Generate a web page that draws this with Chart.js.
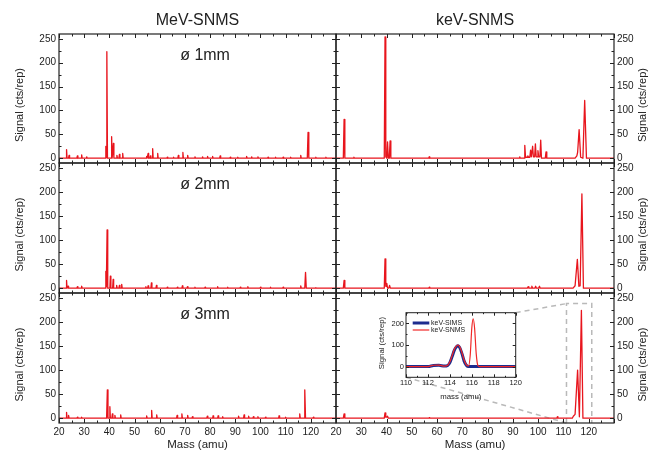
<!DOCTYPE html>
<html>
<head>
<meta charset="utf-8">
<title>MeV-SNMS vs keV-SNMS</title>
<script src="https://cdn.jsdelivr.net/npm/chart.js@4.4.1/dist/chart.umd.min.js"></script>
<style>
  html, body { margin: 0; padding: 0; background: #fff; }
  #fig { position: relative; width: 649px; height: 452px; overflow: hidden; background: #fff; }
  #fig canvas { position: absolute; }
</style>
</head>
<body>
<div id="fig">
  <canvas id="mev1" width="340" height="170" style="left:0px;top:0px"></canvas>
  <canvas id="kev1" width="323" height="170" style="left:326px;top:0px"></canvas>
  <canvas id="mev2" width="340" height="144" style="left:0px;top:156px"></canvas>
  <canvas id="kev2" width="323" height="144" style="left:326px;top:156px"></canvas>
  <canvas id="mev3" width="340" height="166" style="left:0px;top:286px"></canvas>
  <canvas id="kev3" width="323" height="166" style="left:326px;top:286px"></canvas>
  <canvas id="inset" width="152" height="100" style="left:372px;top:305px"></canvas>
</div>
<script>
// axes
const massTicks = [20, 30, 40, 50, 60, 70, 80, 90, 100, 110, 120];
const signalTicks = [0, 50, 100, 150, 200, 250];
const insetMassTicks = [110, 112, 114, 116, 118, 120];
const insetSignalTicks = [0, 100, 200];

const columnTitles = ['MeV-SNMS', 'keV-SNMS'];
const apertureLabels = ['ø 1mm', 'ø 2mm', 'ø 3mm'];

// MeV-SNMS, ø 1mm
const mev1Mass = [
  20,
  22.8, 23.0, 23.2,
  23.8, 24.0, 24.2,
  27.1, 27.3, 27.5,
  28.8, 29.0, 29.2,
  30.8, 31.0, 31.2,
  38.4, 38.6, 38.8, 39.0, 39.25,
  40.7, 40.9, 41.1,
  41.4, 41.6, 41.8,
  42.8, 43.0, 43.2,
  43.8, 44.0, 44.2,
  45.1, 45.3, 45.5,
  54.6, 54.8, 55.0,
  55.2, 55.4, 55.6,
  56.1, 56.3, 56.5,
  57.0, 57.2, 57.4,
  59.0, 59.2, 59.4,
  62.8, 63.0, 63.2,
  65.3, 65.5, 65.7,
  67.2, 67.4, 67.6,
  69.0, 69.2, 69.4,
  70.9, 71.1, 71.3,
  73.8, 74.0, 74.2,
  76.8, 77.0, 77.2,
  78.8, 79.0, 79.2,
  80.8, 81.0, 81.2,
  83.8, 84.0, 84.2,
  87.8, 88.0, 88.2,
  90.8, 91.0, 91.2,
  94.3, 94.5, 94.7,
  96.3, 96.5, 96.7,
  98.8, 99.0, 99.2,
  102.8, 103.0, 103.2,
  105.8, 106.0, 106.2,
  108.8, 109.0, 109.2,
  111.8, 112.0, 112.2,
  115.8, 116.0, 116.2,
  118.6, 118.9, 119.2,
  121.8, 122.0, 122.2,
  125.8, 126.0, 126.2,
  130
];
const mev1Signal = [
  0,
  0, 18, 0,
  0, 6, 0,
  0, 5, 0,
  0, 7, 0,
  0, 3, 0,
  0, 25, 2, 223, 0,
  0, 45, 0,
  0, 31, 0,
  0, 6, 0,
  0, 8, 0,
  0, 10, 0,
  0, 4, 0,
  0, 10, 0,
  0, 5, 0,
  0, 20, 0,
  0, 10, 0,
  0, 2, 0,
  0, 2, 0,
  0, 6, 0,
  0, 12, 0,
  0, 6, 0,
  0, 3, 0,
  0, 3, 0,
  0, 4, 0,
  0, 4, 0,
  0, 5, 0,
  0, 2, 0,
  0, 2, 0,
  0, 4, 0,
  0, 3, 0,
  0, 3, 0,
  0, 2, 0,
  0, 2, 0,
  0, 2, 0,
  0, 2, 0,
  0, 6, 0,
  0, 54, 0,
  0, 2, 0,
  0, 2, 0,
  0
];

// MeV-SNMS, ø 2mm
const mev2Mass = [
  20,
  22.8, 23.0, 23.2,
  23.4, 23.6, 23.8,
  27.1, 27.3, 27.5,
  28.8, 29.0, 29.2,
  38.4, 38.6, 38.8, 39.1, 39.35,
  40.2, 40.4, 40.6,
  41.3, 41.5, 41.7,
  42.7, 42.9, 43.1,
  43.8, 44.0, 44.2,
  44.7, 44.9, 45.1,
  54.3, 54.5, 54.7,
  55.2, 55.4, 55.6,
  56.5, 56.7, 56.9,
  58.5, 58.7, 58.9,
  62.8, 63.0, 63.2,
  66.8, 67.0, 67.2,
  68.8, 69.0, 69.2,
  70.8, 71.0, 71.2,
  73.8, 74.0, 74.2,
  77.8, 78.0, 78.2,
  82.8, 83.0, 83.2,
  86.8, 87.0, 87.2,
  91.8, 92.0, 92.2,
  94.8, 95.0, 95.2,
  99.8, 100.0, 100.2,
  103.8, 104.0, 104.2,
  108.8, 109.0, 109.2,
  115.8, 116.0, 116.2,
  117.6, 117.9, 118.2,
  121.8, 122.0, 122.2,
  130
];
const mev2Signal = [
  0,
  0, 16, 0,
  0, 4, 0,
  0, 3, 0,
  0, 4, 0,
  0, 35, 3, 121, 0,
  0, 25, 0,
  0, 18, 0,
  0, 6, 0,
  0, 6, 0,
  0, 8, 0,
  0, 3, 0,
  0, 5, 0,
  0, 11, 0,
  0, 6, 0,
  0, 2, 0,
  0, 2, 0,
  0, 5, 0,
  0, 3, 0,
  0, 2, 0,
  0, 2, 0,
  0, 3, 0,
  0, 2, 0,
  0, 2, 0,
  0, 3, 0,
  0, 2, 0,
  0, 2, 0,
  0, 2, 0,
  0, 5, 0,
  0, 33, 0,
  0, 1, 0,
  0
];

// MeV-SNMS, ø 3mm
const mev3Mass = [
  20,
  22.8, 23.0, 23.2,
  23.6, 23.8, 24.0,
  27.1, 27.3, 27.5,
  28.8, 29.0, 29.2,
  38.9, 39.2, 39.45,
  40.0, 40.2, 40.4,
  41.0, 41.2, 41.4,
  42.0, 42.2, 42.4,
  44.3, 44.5, 44.7,
  54.6, 54.8, 55.0,
  56.6, 56.8, 57.0,
  58.6, 58.8, 59.0,
  66.7, 66.9, 67.1,
  68.6, 68.8, 69.0,
  70.9, 71.1, 71.3,
  72.8, 73.0, 73.2,
  78.7, 78.9, 79.1,
  81.0, 81.2, 81.4,
  83.0, 83.2, 83.4,
  84.8, 85.0, 85.2,
  91.1, 91.3, 91.5,
  93.3, 93.5, 93.7,
  95.1, 95.3, 95.5,
  97.0, 97.2, 97.4,
  98.8, 99.0, 99.2,
  101.8, 102.0, 102.2,
  107.2, 107.4, 107.6,
  109.8, 110.0, 110.2,
  115.4, 115.6, 115.8,
  117.3, 117.6, 117.9,
  120.8, 121.0, 121.2,
  130
];
const mev3Signal = [
  0,
  0, 12, 0,
  0, 6, 0,
  0, 2, 0,
  0, 2, 0,
  0, 59, 0,
  0, 24, 0,
  0, 9, 0,
  0, 6, 0,
  0, 7, 0,
  0, 5, 0,
  0, 16, 0,
  0, 7, 0,
  0, 6, 0,
  0, 9, 0,
  0, 6, 0,
  0, 3, 0,
  0, 4, 0,
  0, 5, 0,
  0, 5, 0,
  0, 3, 0,
  0, 4, 0,
  0, 7, 0,
  0, 4, 0,
  0, 3, 0,
  0, 3, 0,
  0, 2, 0,
  0, 5, 0,
  0, 2, 0,
  0, 9, 0,
  0, 59, 0,
  0, 2, 0,
  0
];

// keV-SNMS, ø 1mm
const kev1Mass = [
  20,
  22.9, 23.2, 23.5,
  26.9, 27.1, 27.3,
  39.1, 39.4, 39.7,
  40.1, 40.4, 40.7,
  41.1, 41.4, 41.7,
  56.7, 56.9, 57.1,
  92.5, 92.7, 92.9,
  94.4, 94.7, 95.0,
  95.6, 95.9, 96.2,
  96.7, 97.0, 97.3,
  97.5, 97.8, 98.1,
  98.6, 98.9, 99.2,
  99.6, 99.9, 100.2,
  100.7, 101.0, 101.3,
  102.8, 103.1, 103.4,
  114.6, 115.3, 115.6, 116.2, 116.8,
  117.7, 118.4, 119.1,
  130
];
const kev1Signal = [
  0,
  0, 81, 0,
  0, 2, 0,
  0, 254, 3,
  0, 34, 0,
  0, 36, 0,
  0, 3, 0,
  0, 3, 0,
  0, 27, 2,
  2, 5, 2,
  2, 17, 3,
  3, 25, 3,
  3, 30, 3,
  3, 16, 3,
  3, 38, 0,
  0, 13, 0,
  0, 5, 12, 60, 2,
  0, 121, 0,
  0
];

// keV-SNMS, ø 2mm
const kev2Mass = [
  20,
  22.9, 23.2, 23.5,
  39.1, 39.4, 39.7,
  39.9, 40.1, 40.4,
  40.9, 41.2, 41.5,
  56.7, 56.9, 57.1,
  95.7, 96.0, 96.3,
  97.2, 97.5, 97.8,
  98.7, 99.0, 99.3,
  100.2, 100.5, 100.8,
  113.8, 114.6, 115.5, 116.1,
  116.6, 117.3, 117.9,
  130
];
const kev2Signal = [
  0,
  0, 16, 0,
  0, 61, 4,
  4, 10, 0,
  0, 6, 0,
  0, 2, 0,
  0, 3, 0,
  0, 4, 0,
  0, 4, 0,
  0, 4, 0,
  0, 5, 60, 4,
  5, 196, 0,
  0
];

// keV-SNMS, ø 3mm
const kev3Mass = [
  20,
  22.9, 23.2, 23.5,
  39.1, 39.4, 39.7,
  40.1, 40.4, 40.7,
  56.7, 56.9, 57.1,
  107.4, 107.6, 107.8,
  113.5, 113.9, 114.6, 115.6, 116.3,
  116.5, 117.1, 117.7,
  130
];
const kev3Signal = [
  0,
  0, 9, 0,
  0, 11, 2,
  2, 4, 0,
  0, 1, 0,
  0, 3, 0,
  0, 4, 8, 100, 3,
  3, 224, 0,
  0
];

// inset, 110-120 amu
const insetSimsMass = [110, 112.0, 112.5, 113.0, 113.5, 113.8, 114.0, 114.2, 114.4, 114.6, 114.75, 114.9, 115.1, 115.3, 115.5, 115.7, 120];
const insetSimsSignal = [0, 0, 5, 6, 2, 5, 18, 45, 75, 92, 96, 88, 60, 25, 6, 0, 0];
const insetSnmsMass = [110, 112.0, 112.5, 113.0, 113.5, 113.8, 114.0, 114.2, 114.4, 114.6, 114.75, 114.9, 115.1, 115.3, 115.5, 115.7, 115.85, 116.0, 116.12, 116.25, 116.4, 116.55, 116.7, 120];
const insetSnmsSignal = [0, 0, 6, 7, 2, 6, 22, 50, 80, 96, 100, 92, 65, 30, 8, 3, 50, 180, 222, 180, 60, 5, 0, 0];

// zoomed region marked on the keV ø 3mm panel
const zoomBoxMass = [111.2, 121.2];
const zoomBoxTop = 238;

const FAMILY = "'Liberation Sans', Arial, Helvetica, sans-serif";
const INK = '#222';
const SPECTRUM_RED = '#e8151d';
const SIMS_BLUE = '#1d2c8e';
const SNMS_RED = '#f02828';

const toPoints = (xs, ys) => xs.map((x, i) => ({ x, y: ys[i] }));
const fixedTicks = list => axis => { axis.ticks = list.map(v => ({ value: v })); };

// closed frame + inward ticks on all four sides
const framePlugin = {
  id: 'frame',
  afterDatasetsDraw(chart, args, o) {
    const { ctx, chartArea: a, scales: { x, y } } = chart;
    ctx.save();
    ctx.strokeStyle = INK;
    ctx.lineWidth = 1;
    ctx.beginPath();
    const nx = Math.round((x.max - x.min) / o.xStep);
    for (let i = 0; i <= nx; i++) {
      const v = x.min + i * o.xStep;
      const len = Math.round(v / o.xStep) % 2 === 0 ? o.major : o.minor;
      const px = Math.round(x.getPixelForValue(v)) + 0.5;
      ctx.moveTo(px, a.top); ctx.lineTo(px, a.top + len);
      ctx.moveTo(px, a.bottom); ctx.lineTo(px, a.bottom - len);
    }
    const k0 = Math.ceil(y.min / o.yStep), k1 = Math.floor(y.max / o.yStep);
    for (let k = k0; k <= k1; k++) {
      const len = k % 2 === 0 ? o.major : o.minor;
      const py = Math.round(y.getPixelForValue(k * o.yStep)) + 0.5;
      ctx.moveTo(a.left, py); ctx.lineTo(a.left + len, py);
      ctx.moveTo(a.right, py); ctx.lineTo(a.right - len, py);
    }
    ctx.stroke();
    ctx.lineWidth = o.lineWidth;
    ctx.strokeRect(a.left, a.top, a.right - a.left, a.bottom - a.top);
    ctx.restore();
  }
};

// column titles, aperture labels and rotated y titles
const notesPlugin = {
  id: 'notes',
  afterDraw(chart, args, o) {
    const { ctx, chartArea: a, scales: { x, y } } = chart;
    ctx.save();
    ctx.fillStyle = INK;
    ctx.textAlign = 'center';
    ctx.textBaseline = 'middle';
    if (o.title) {
      ctx.font = `16px ${FAMILY}`;
      ctx.fillText(o.title, (a.left + a.right) / 2, a.top - 13.5);
    }
    if (o.label) {
      ctx.font = `16px ${FAMILY}`;
      ctx.fillText(o.label, x.getPixelForValue(78), y.getPixelForValue(215));
    }
    if (o.yTitle) {
      const tx = o.yTitleSide === 'left' ? o.yTitleInset : chart.width - o.yTitleInset;
      ctx.translate(tx, (a.top + a.bottom) / 2 + o.yTitleShift);
      ctx.rotate(-Math.PI / 2);
      ctx.font = `${o.yTitleSize}px ${FAMILY}`;
      ctx.fillText(o.yTitle, 0, 0);
    }
    ctx.restore();
  }
};

const insetLegendPlugin = {
  id: 'insetLegend',
  afterDraw(chart) {
    const { ctx, chartArea: a } = chart;
    ctx.save();
    ctx.font = `7px ${FAMILY}`;
    ctx.textBaseline = 'middle';
    ctx.fillStyle = INK;
    chart.data.datasets.forEach((ds, i) => {
      const yy = a.top + 10.3 + i * 7;
      ctx.strokeStyle = ds.borderColor;
      ctx.lineWidth = ds.borderWidth;
      ctx.beginPath();
      ctx.moveTo(a.left + 6.7, yy);
      ctx.lineTo(a.left + 23.3, yy);
      ctx.stroke();
      ctx.fillText(ds.label, a.left + 25, yy);
    });
    ctx.restore();
  }
};

const insetCanvas = document.getElementById('inset');
const insetChart = new Chart(insetCanvas, {
  type: 'line',
  data: {
    datasets: [
      { label: 'keV-SIMS', data: toPoints(insetSimsMass, insetSimsSignal), borderColor: SIMS_BLUE, borderWidth: 3,
        pointRadius: 0, tension: 0.4, cubicInterpolationMode: 'monotone', order: 2 },
      { label: 'keV-SNMS', data: toPoints(insetSnmsMass, insetSnmsSignal), borderColor: SNMS_RED, borderWidth: 1.2,
        pointRadius: 0, tension: 0.4, cubicInterpolationMode: 'monotone', order: 1 }
    ]
  },
  options: {
    responsive: false,
    animation: false,
    events: [],
    layout: { padding: { left: 0, right: 8.3, top: 7.7, bottom: 0 } },
    plugins: {
      legend: { display: false },
      tooltip: { enabled: false },
      frame: { xStep: 1, yStep: 50, major: 3, minor: 1.5, lineWidth: 1 },
      notes: { yTitle: 'Signal (cts/rep)', yTitleSide: 'left', yTitleInset: 9.7, yTitleShift: -2, yTitleSize: 7.8 }
    },
    scales: {
      x: {
        type: 'linear', min: 110, max: 120,
        afterBuildTicks: fixedTicks(insetMassTicks),
        afterFit: ax => { ax.height = 27.7; ax.paddingLeft = 0; ax.paddingRight = 0; },
        grid: { display: false, drawTicks: false }, border: { display: false },
        ticks: { font: { family: FAMILY, size: 7.5 }, color: INK, padding: 1.5, maxRotation: 0, autoSkip: false },
        title: { display: true, text: 'mass (amu)', font: { family: FAMILY, size: 7.8 }, color: INK, padding: { top: 0, bottom: 3 } }
      },
      y: {
        min: -50, max: 250,
        afterBuildTicks: fixedTicks(insetSignalTicks),
        afterFit: ax => { ax.width = 34; ax.paddingTop = 0; ax.paddingBottom = 0; },
        grid: { display: false, drawTicks: false }, border: { display: false },
        ticks: { font: { family: FAMILY, size: 7.5 }, color: INK, padding: 2 }
      }
    }
  },
  plugins: [framePlugin, notesPlugin, insetLegendPlugin]
});

// dashed box on the main axis and lines towards the inset
const zoomGuidePlugin = {
  id: 'zoomGuide',
  beforeDatasetsDraw(chart) {
    const { ctx, chartArea: a, scales: { x, y } } = chart;
    const ia = insetChart.chartArea;
    const dx = insetCanvas.offsetLeft - chart.canvas.offsetLeft;
    const dy = insetCanvas.offsetTop - chart.canvas.offsetTop;
    const bl = x.getPixelForValue(zoomBoxMass[0]);
    const br = x.getPixelForValue(zoomBoxMass[1]);
    const bt = y.getPixelForValue(zoomBoxTop);
    ctx.save();
    ctx.strokeStyle = '#b9b9b9';
    ctx.lineWidth = 1.5;
    ctx.setLineDash([5, 4]);
    ctx.beginPath();
    ctx.moveTo(bl, a.bottom); ctx.lineTo(bl, bt); ctx.lineTo(br, bt); ctx.lineTo(br, a.bottom);
    ctx.moveTo(ia.right + dx, ia.top + dy); ctx.lineTo(bl, bt);
    ctx.moveTo(ia.left + dx, ia.bottom + dy); ctx.lineTo(bl, a.bottom);
    ctx.stroke();
    ctx.restore();
  }
};

const PANELS = [
  { id: 'mev1', col: 0, row: 0, mass: mev1Mass, signal: mev1Signal },
  { id: 'kev1', col: 1, row: 0, mass: kev1Mass, signal: kev1Signal },
  { id: 'mev2', col: 0, row: 1, mass: mev2Mass, signal: mev2Signal },
  { id: 'kev2', col: 1, row: 1, mass: kev2Mass, signal: kev2Signal },
  { id: 'mev3', col: 0, row: 2, mass: mev3Mass, signal: mev3Signal },
  { id: 'kev3', col: 1, row: 2, mass: kev3Mass, signal: kev3Signal }
];
const ROW_PAD_TOP = [34, 7, 7];
const ROW_AXIS_H = [7, 7, 29];

PANELS.forEach(p => {
  const isLeft = p.col === 0;
  const isBottom = p.row === 2;
  const extra = p.id === 'kev3' ? [zoomGuidePlugin] : [];
  new Chart(document.getElementById(p.id), {
    type: 'line',
    data: {
      datasets: [{
        label: columnTitles[p.col] + ' ' + apertureLabels[p.row],
        data: toPoints(p.mass, p.signal),
        borderColor: SPECTRUM_RED,
        borderWidth: 1.3,
        borderJoinStyle: 'round',
        pointRadius: 0,
        tension: 0
      }]
    },
    options: {
      responsive: false,
      animation: false,
      events: [],
      layout: { padding: { left: isLeft ? 0 : 10, right: isLeft ? 4 : 0, top: ROW_PAD_TOP[p.row], bottom: 0 } },
      plugins: {
        legend: { display: false },
        tooltip: { enabled: false },
        frame: { xStep: 5, yStep: 25, major: 4, minor: 2.5, lineWidth: 1.2 },
        notes: {
          title: p.row === 0 ? columnTitles[p.col] : null,
          label: isLeft ? apertureLabels[p.row] : null,
          yTitle: 'Signal (cts/rep)',
          yTitleSide: isLeft ? 'left' : 'right',
          yTitleInset: isLeft ? 20 : 6,
          yTitleShift: 6.5,
          yTitleSize: 11
        }
      },
      scales: {
        x: {
          type: 'linear', min: 20, max: 130,
          afterBuildTicks: fixedTicks(massTicks),
          afterFit: ax => { ax.height = ROW_AXIS_H[p.row]; ax.paddingLeft = 0; ax.paddingRight = 0; },
          grid: { display: false, drawTicks: false }, border: { display: false },
          ticks: { display: isBottom, font: { family: FAMILY, size: 10 }, color: INK, padding: 3, maxRotation: 0, autoSkip: false },
          title: { display: isBottom, text: 'Mass (amu)', font: { family: FAMILY, size: 11.5 }, color: INK, padding: { top: 0, bottom: 0 } }
        },
        y: {
          position: isLeft ? 'left' : 'right',
          min: -10, max: 260,
          afterBuildTicks: fixedTicks(signalTicks),
          afterFit: ax => { ax.width = isLeft ? 59 : 35; ax.paddingTop = 0; ax.paddingBottom = 0; },
          grid: { display: false, drawTicks: false }, border: { display: false },
          ticks: { font: { family: FAMILY, size: 10 }, color: INK, padding: 3 }
        }
      }
    },
    plugins: [...extra, framePlugin, notesPlugin]
  });
});
</script>
</body>
</html>
